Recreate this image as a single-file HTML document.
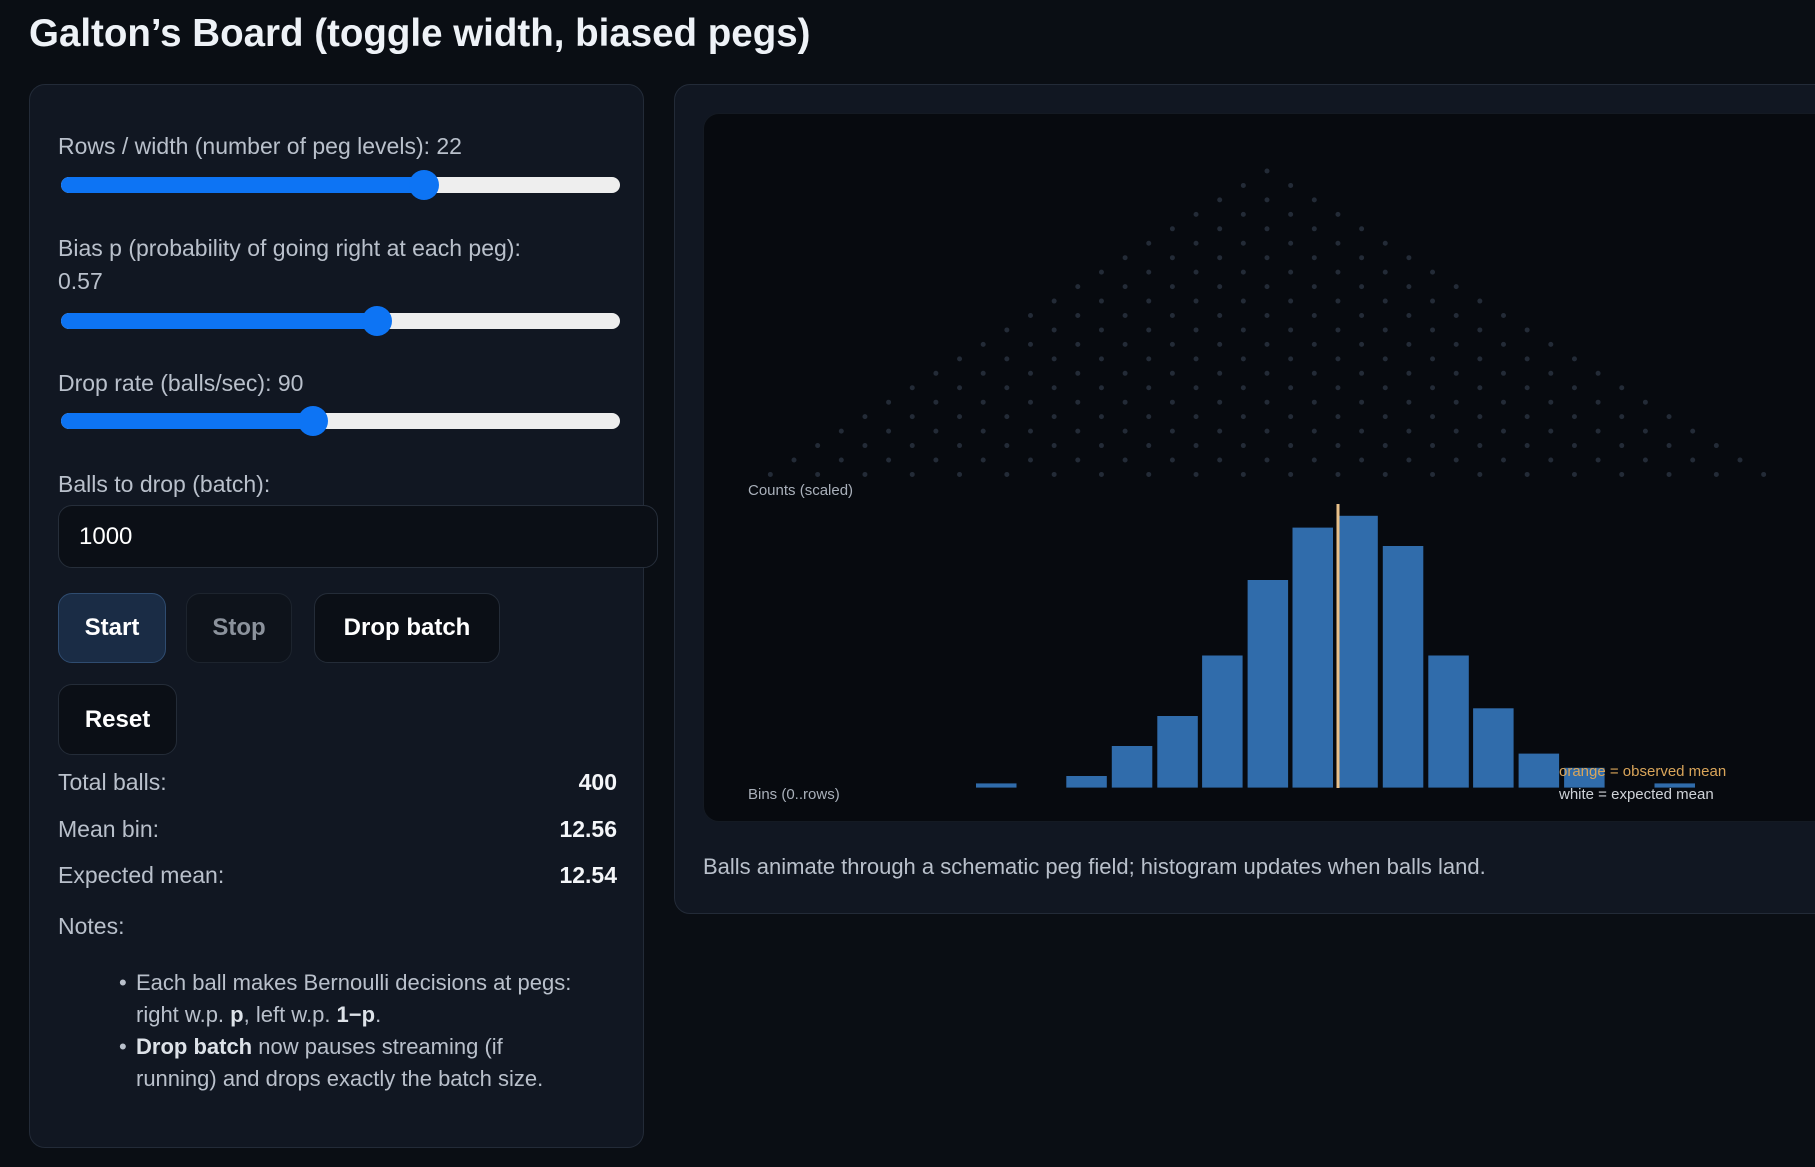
<!DOCTYPE html>
<html><head><meta charset="utf-8"><style>
*{margin:0;padding:0;box-sizing:border-box}
body{width:1815px;height:1167px;background:#0a0e14;font-family:"Liberation Sans",sans-serif;position:relative;overflow:hidden;color:#c3cad4}
.a{position:absolute;white-space:nowrap}
h1{position:absolute;left:29px;top:12px;font-size:38.5px;font-weight:bold;color:#eef2f7}
.panel{position:absolute;background:#111722;border:1px solid #232b38;border-radius:16px}
.lbl{font-size:23px;color:#b9c0cb}
.track{position:absolute;height:16px;border-radius:8px;background:#eeeeee}
.fill{position:absolute;left:0;top:0;height:16px;border-radius:8px;background:#0d74f4}
.thumb{position:absolute;width:30px;height:30px;border-radius:50%;background:#0d74f4;top:-7px}
.btn{position:absolute;border:1px solid #242c38;border-radius:14px;background:#0b0f16;color:#fff;font-weight:bold;font-size:24px;text-align:center}
.val{font-weight:bold;color:#f4f6f9;font-size:23px;right:0;text-align:right}
</style></head><body>
<h1>Galton’s Board (toggle width, biased pegs)</h1>
<div class="panel" style="left:29px;top:84px;width:615px;height:1064px"></div>
<div class="a lbl" style="left:58px;top:133px">Rows / width (number of peg levels): 22</div>
<div class="track" style="left:61px;top:177px;width:559px"><div class="fill" style="width:365px"></div><div class="thumb" style="left:348px"></div></div>
<div class="a lbl" style="left:58px;top:235px">Bias p (probability of going right at each peg):</div>
<div class="a lbl" style="left:58px;top:268px">0.57</div>
<div class="track" style="left:61px;top:313px;width:559px"><div class="fill" style="width:318px"></div><div class="thumb" style="left:301px"></div></div>
<div class="a lbl" style="left:58px;top:370px">Drop rate (balls/sec): 90</div>
<div class="track" style="left:61px;top:413px;width:559px"><div class="fill" style="width:254px"></div><div class="thumb" style="left:237px"></div></div>
<div class="a lbl" style="left:58px;top:471px">Balls to drop (batch):</div>
<div class="a" style="left:58px;top:505px;width:600px;height:63px;border:1px solid #262e3a;border-radius:14px;background:#0b0f16;color:#fff;font-size:24px;padding:17px 0 0 20px">1000</div>
<div class="btn" style="left:58px;top:593px;width:108px;height:70px;line-height:68px;background:#1a2c45;border-color:#2f4c70">Start</div>
<div class="btn" style="left:186px;top:593px;width:106px;height:70px;line-height:68px;color:#8b929c;background:#0e131b;border-color:#1d242e">Stop</div>
<div class="btn" style="left:314px;top:593px;width:186px;height:70px;line-height:68px">Drop batch</div>
<div class="btn" style="left:58px;top:684px;width:119px;height:71px;line-height:69px">Reset</div>
<div class="a lbl" style="left:58px;top:769px">Total balls:</div><div class="a val" style="left:480px;width:137px;top:769px">400</div>
<div class="a lbl" style="left:58px;top:816px">Mean bin:</div><div class="a val" style="left:480px;width:137px;top:816px">12.56</div>
<div class="a lbl" style="left:58px;top:862px">Expected mean:</div><div class="a val" style="left:480px;width:137px;top:862px">12.54</div>
<div class="a lbl" style="left:58px;top:913px">Notes:</div>
<div class="a" style="left:119px;top:967px;font-size:22px;line-height:32px;color:#b9c0cb">
<div style="position:relative"><span style="position:absolute;left:0">•</span><div style="padding-left:17px">Each ball makes Bernoulli decisions at pegs:<br>right w.p. <b style="color:#dde2e8">p</b>, left w.p. <b style="color:#dde2e8">1−p</b>.</div></div>
<div style="position:relative"><span style="position:absolute;left:0">•</span><div style="padding-left:17px"><b style="color:#dde2e8">Drop batch</b> now pauses streaming (if<br>running) and drops exactly the batch size.</div></div>
</div>
<div class="panel" style="left:674px;top:84px;width:1160px;height:830px"></div>
<div class="a" style="left:703px;top:113px;width:1130px;height:709px;background:#070a0f;border-radius:16px;border:1px solid #141a23"></div>
<svg class="a" style="left:0;top:0" width="1815" height="1167">
<g id="pegs" stroke="#232b37" stroke-width="5" stroke-linecap="round" stroke-dasharray="0 47.3"></g>
<g fill="#306cab">
<rect x="976" y="783.4" width="40.5" height="4.2"/>
<rect x="1066.3" y="776" width="40.5" height="11.6"/>
<rect x="1111.8" y="746" width="40.5" height="41.6"/>
<rect x="1157.3" y="716" width="40.5" height="71.6"/>
<rect x="1202.1" y="655.5" width="40.5" height="132.1"/>
<rect x="1247.6" y="580" width="40.5" height="207.6"/>
<rect x="1292.5" y="527.6" width="40.5" height="260"/>
<rect x="1337.3" y="515.8" width="40.5" height="271.8"/>
<rect x="1382.8" y="546" width="40.5" height="241.6"/>
<rect x="1428.3" y="655.5" width="40.5" height="132.1"/>
<rect x="1473.1" y="708.3" width="40.5" height="79.3"/>
<rect x="1518.6" y="753.6" width="40.5" height="34"/>
<rect x="1564.1" y="767.8" width="40.5" height="19.8"/>
<rect x="1654.5" y="783.4" width="40.5" height="4.2"/>
</g>
<line x1="1338" y1="504" x2="1338" y2="788" stroke="#e8c08a" stroke-width="3"/>
<g font-family="Liberation Sans, sans-serif" font-size="15">
<text x="748" y="495" fill="#a9b0ba">Counts (scaled)</text>
<text x="748" y="799" fill="#a9b0ba">Bins (0..rows)</text>
<text x="1559" y="776" fill="#d9a55a">orange = observed mean</text>
<text x="1559" y="799" fill="#cfd3d8">white = expected mean</text>
</g>
</svg>
<div class="a lbl" style="left:703px;top:854px;font-size:22px">Balls animate through a schematic peg field; histogram updates when balls land.</div>
<script>
var g=document.getElementById('pegs'),s='';
for(var i=0;i<22;i++){var y=171+i*14.45,x0=1267-i*23.65,x1=1267+i*23.65+1;s+='<line x1="'+x0+'" y1="'+y+'" x2="'+x1+'" y2="'+y+'"/>';}
g.innerHTML=s;
</script>
</body></html>
